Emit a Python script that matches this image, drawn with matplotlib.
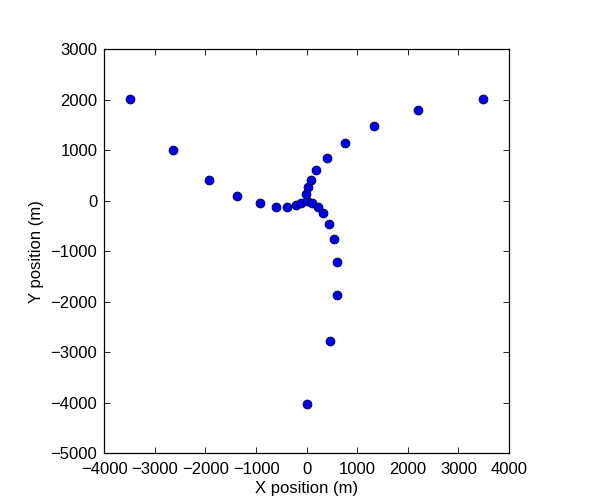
import matplotlib
matplotlib.use("Agg")
import matplotlib.pyplot as plt

plt.rcParams['font.family'] = ['Liberation Sans', 'DejaVu Sans']

x_pos = [-3494, -2650, -1938, -1371, -923, -600, -382, -211, -105, 13,
         -7, 20, 86, 185, 409, 758, 1332, 2195, 3487,
         112, 218, 316, 435, 534, 606, 606, 455, 13]
y_pos = [2020, 1003, 409, 92, -53, -132, -132, -79, -40, 0,
         132, 264, 409, 607, 851, 1149, 1472, 1802, 2020,
         -40, -132, -251, -462, -752, -1221, -1868, -2779, -4020]
x_ticks = [-4000, -3000, -2000, -1000, 0, 1000, 2000, 3000, 4000]
y_ticks = [-5000, -4000, -3000, -2000, -1000, 0, 1000, 2000, 3000]

fig = plt.figure(figsize=(5.97, 5.04), dpi=100)
ax = fig.add_axes([0.1747, 0.1006, 0.678, 0.8016])
ax.plot(x_pos, y_pos, linestyle='none', marker='o', markersize=6.4,
        markerfacecolor='#0000e6', markeredgecolor='#000040', markeredgewidth=0.6)
ax.set_xlim(-4000, 4000)
ax.set_ylim(-5000, 3000)
ax.set_xticks(x_ticks)
ax.set_yticks(y_ticks)
ax.tick_params(direction='in', top=True, right=True, labelsize=12, length=4, width=0.6)
ax.tick_params(axis='x', pad=6)
ax.tick_params(axis='y', pad=5)
for s in ax.spines.values():
    s.set_linewidth(0.9)
ax.set_xlabel('X position (m)', fontsize=12, labelpad=3)
ax.set_ylabel('Y position (m)', fontsize=12, labelpad=5)
fig.savefig('out.png', dpi=100)
